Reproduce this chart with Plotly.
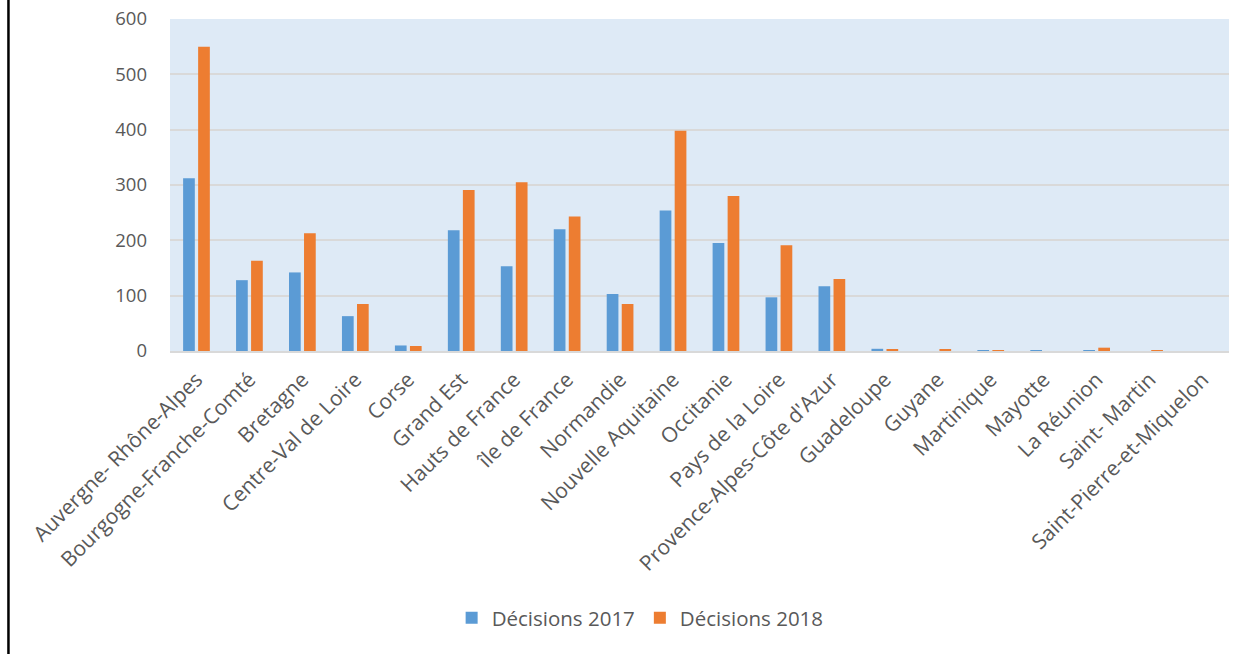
import plotly.graph_objects as go

regions = [
    "Auvergne- Rhône-Alpes", "Bourgogne-Franche-Comté", "Bretagne", "Centre-Val de Loire",
    "Corse", "Grand Est", "Hauts de France", "île de France", "Normandie",
    "Nouvelle Aquitaine", "Occitanie", "Pays de la Loire", "Provence-Alpes-Côte d'Azur",
    "Guadeloupe", "Guyane", "Martinique", "Mayotte", "La Réunion", "Saint- Martin",
    "Saint-Pierre-et-Miquelon",
]
decisions_2017 = [312, 128, 142, 63, 10, 218, 153, 220, 103, 254, 195, 97, 117,
                  4, 0, 1, 0.5, 1, 0, 0]
decisions_2018 = [550, 163, 213, 85, 9, 291, 305, 243, 85, 398, 280, 191, 130,
                  2, 3, 1, 0, 6, 0.5, 0]
y_ticks = [0, 100, 200, 300, 400, 500, 600]

FONT = "Open Sans"
GREY = "#595959"

# plot area target in screen px: x 170..1228.7, y 19..351 (body margin removed below)
L, R_EDGE, T, B_EDGE = 170, 1228.7, 19, 351
W, H = 1255, 654
PW, PH = R_EDGE - L, B_EDGE - T

fig = go.Figure()
fig.add_trace(go.Bar(x=regions, y=decisions_2017, name="Décisions 2017",
                     marker=dict(color="#5B9BD5", line=dict(width=0))))
fig.add_trace(go.Bar(x=regions, y=decisions_2018, name="Décisions 2018",
                     marker=dict(color="#ED7D31", line=dict(width=0))))

fig.update_layout(
    width=W, height=H,
    margin=dict(l=L, r=W - R_EDGE, t=T, b=H - B_EDGE),
    paper_bgcolor="white",
    plot_bgcolor="#DEEAF6",
    barmode="group",
    bargap=0.433,
    bargroupgap=0.22,
    font=dict(family=FONT, size=19, color=GREY),
    showlegend=True,
    hovermode=False,
    legend=dict(orientation="h", x=(640 - L) / PW, xanchor="center",
                y=-(618 - B_EDGE) / PH, yanchor="middle",
                font=dict(family=FONT, size=20.5, color=GREY),
                itemwidth=30, traceorder="normal"),
    xaxis=dict(
        tickangle=-45,
        showgrid=False,
        showline=True, linecolor="#D9D9D9", linewidth=2,
        ticks="",
        automargin=False,
        ticklabelstandoff=6,
        ticklabeloverflow="allow",
        tickfont=dict(family=FONT, size=21, color=GREY),
    ),
    yaxis=dict(
        range=[0, 600],
        tickvals=y_ticks,
        showgrid=True, gridcolor="#D9D9D9", gridwidth=1.5,
        zeroline=False,
        showline=False,
        ticks="",
        automargin=False,
        ticklabelstandoff=22,
        ticklabeloverflow="allow",
        tickfont=dict(family=FONT, size=18.5, color=GREY),
    ),
    shapes=[dict(type="line", xref="paper", yref="paper",
                 x0=(8.5 - L) / PW, x1=(8.5 - L) / PW,
                 y0=-(H - B_EDGE) / PH, y1=1 + T / PH,
                 line=dict(color="black", width=2.5))],
)

fig.write_html("out.html",
               config={"displayModeBar": False},
               post_script="document.body.style.margin='0';")
